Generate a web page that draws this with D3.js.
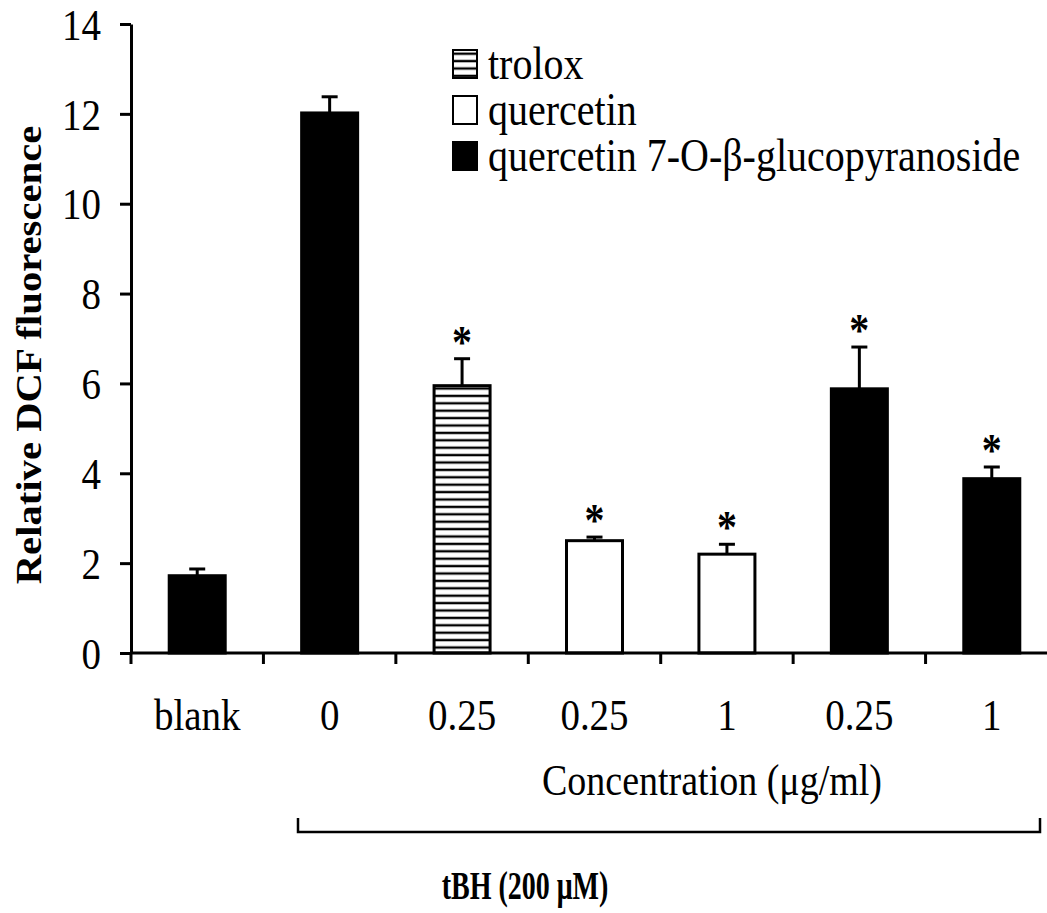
<!DOCTYPE html>
<html>
<head>
<meta charset="utf-8">
<script src="https://cdn.jsdelivr.net/npm/d3@7"></script>
<style>
    body { margin: 0; background: #fff; }
    text { font-family: "Liberation Serif", "Times New Roman", serif; fill: #000; }
</style>
</head>
<body>
<script>
// values
const categories = ['blank', '0', '0.25', '0.25', '1', '0.25', '1'];
const values = [1.72, 12.02, 5.95, 2.5, 2.2, 5.88, 3.88];
const errors = [0.15, 0.36, 0.6, 0.08, 0.22, 0.93, 0.26];
const groups = ['control', 'control', 'trolox', 'quercetin', 'quercetin', 'q7g', 'q7g'];
const significant = [false, false, true, true, true, true, true];
const yTicks = [0, 2, 4, 6, 8, 10, 12, 14];
const legendKeys = ['trolox', 'quercetin', 'q7g'];
const legendLabels = ['trolox', 'quercetin', 'quercetin 7-O-β-glucopyranoside'];

const width = 1047;
const height = 913;
const SY = 1.15; // figure text is a bit stretched vertically

const svg = d3.select('body').append('svg')
    .attr('width', width)
    .attr('height', height);

// hatch for trolox
const defs = svg.append('defs');
const pat = defs.append('pattern')
    .attr('id', 'hatch')
    .attr('patternUnits', 'userSpaceOnUse')
    .attr('width', 10)
    .attr('height', 7.4);
pat.append('rect').attr('width', 10).attr('height', 7.4).attr('fill', '#fff');
pat.append('line')
    .attr('x1', 0).attr('x2', 10)
    .attr('y1', 3.7).attr('y2', 3.7)
    .attr('stroke', '#000').attr('stroke-width', 2.4);

function fillFor(g) {
    if (g === 'trolox') return 'url(#hatch)';
    if (g === 'quercetin') return '#fff';
    return '#000';
}

const y = d3.scaleLinear().domain([0, 14]).range([653, 24]);
const x = d3.scaleBand().domain(d3.range(categories.length)).range([131, 1058]);
const barW = 56;

function cx(i) {
    return x(i) + x.bandwidth() / 2;
}

// bars
svg.append('g')
    .selectAll('rect')
    .data(values)
    .enter()
    .append('rect')
    .attr('x', (d, i) => cx(i) - barW / 2)
    .attr('y', d => y(d))
    .attr('width', barW)
    .attr('height', d => y(0) - y(d))
    .attr('fill', (d, i) => fillFor(groups[i]))
    .attr('stroke', '#000')
    .attr('stroke-width', 3);

// error bars (upper only)
const eb = svg.append('g').attr('stroke', '#000').attr('stroke-width', 3);
values.forEach(function (v, i) {
    eb.append('line')
        .attr('x1', cx(i)).attr('x2', cx(i))
        .attr('y1', y(v)).attr('y2', y(v + errors[i]));
    eb.append('line')
        .attr('x1', cx(i) - 8).attr('x2', cx(i) + 8)
        .attr('y1', y(v + errors[i])).attr('y2', y(v + errors[i]));
});

// asterisks
const stars = values
    .map((v, i) => ({ i: i, top: v + errors[i] }))
    .filter(d => significant[d.i]);
svg.append('g')
    .selectAll('text')
    .data(stars)
    .enter()
    .append('text')
    .attr('transform', d => 'translate(' + cx(d.i) + ',' + (y(d.top) - 1) + ') scale(1,' + SY + ')')
    .attr('text-anchor', 'middle')
    .style('font-size', '40px')
    .style('font-weight', 'bold')
    .text('*');

// y axis
const yAxis = svg.append('g')
    .attr('transform', 'translate(131,0)')
    .call(d3.axisLeft(y).tickValues(yTicks).tickSize(11).tickSizeOuter(0).tickPadding(19));
yAxis.select('.domain').attr('stroke-width', 3);
yAxis.selectAll('.tick line').attr('stroke-width', 3);
yAxis.selectAll('.tick text')
    .attr('transform', 'scale(1,' + SY + ')')
    .attr('dy', '0.34em')
    .style('font-size', '39px')
    .style('font-family', '"Liberation Serif", serif');

// x axis labels
const xAxis = svg.append('g')
    .attr('transform', 'translate(0,653)')
    .call(d3.axisBottom(x).tickSize(0).tickFormat(i => categories[i]));
xAxis.select('.domain').remove();
xAxis.selectAll('.tick text')
    .attr('y', 0)
    .attr('dy', 0)
    .attr('transform', 'translate(0,77) scale(1,' + SY + ')')
    .style('font-size', '39px')
    .style('font-family', '"Liberation Serif", serif');

// x axis line and boundary ticks
svg.append('line')
    .attr('x1', 131).attr('x2', x.range()[1])
    .attr('y1', 653).attr('y2', 653)
    .attr('stroke', '#000').attr('stroke-width', 3);
const bounds = x.domain().map(i => x(i)).concat([x.range()[1]]);
svg.append('g')
    .selectAll('line')
    .data(bounds)
    .enter()
    .append('line')
    .attr('x1', d => d).attr('x2', d => d)
    .attr('y1', 653).attr('y2', 664)
    .attr('stroke', '#000').attr('stroke-width', 3);

// y axis title
svg.append('text')
    .attr('transform', 'translate(41,355) rotate(-90) scale(1.13,1)')
    .attr('text-anchor', 'middle')
    .style('font-size', '36px')
    .style('font-weight', 'bold')
    .text('Relative DCF fluorescence');

// legend
const legend = svg.append('g').attr('transform', 'translate(453,50)');
legendKeys.forEach(function (k, i) {
    legend.append('rect')
        .attr('x', 0).attr('y', i * 46)
        .attr('width', 24).attr('height', 28)
        .attr('fill', fillFor(k))
        .attr('stroke', '#000').attr('stroke-width', 2);
    legend.append('text')
        .attr('transform', 'translate(35,' + (i * 46 + 29) + ') scale(1,' + SY + ')')
        .style('font-size', '40px')
        .text(legendLabels[i]);
});

// concentration label
svg.append('text')
    .attr('transform', 'translate(712,795) scale(1,' + SY + ')')
    .attr('text-anchor', 'middle')
    .style('font-size', '38px')
    .text('Concentration (μg/ml)');

// tBH bracket
svg.append('path')
    .attr('d', 'M298,818 V832 H1040 V818')
    .attr('fill', 'none')
    .attr('stroke', '#000')
    .attr('stroke-width', 2.5);

svg.append('text')
    .attr('transform', 'translate(525,899) scale(1,1.4)')
    .attr('text-anchor', 'middle')
    .style('font-size', '28px')
    .style('font-weight', 'bold')
    .text('tBH (200 μM)');
</script>
</body>
</html>
